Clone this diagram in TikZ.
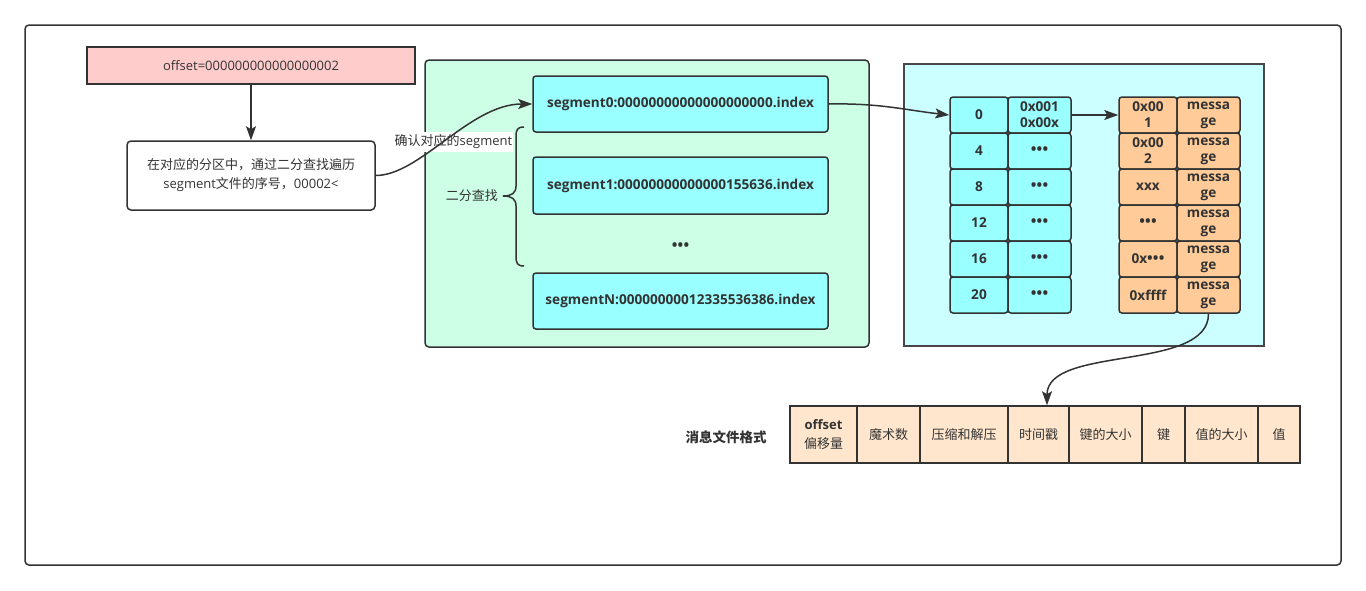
\documentclass[tikz,border=0pt]{standalone}
\usepackage{fontspec}
\setmainfont{Open Sans}
\newfontfamily\cjk{Noto Sans CJK SC}
\usetikzlibrary{arrows.meta}
\definecolor{ln}{HTML}{333333}
\definecolor{pinkfill}{HTML}{FFCCCC}
\definecolor{greenfill}{HTML}{CCFFE6}
\definecolor{segfill}{HTML}{99FFFF}
\definecolor{cyanfill}{HTML}{CCFFFF}
\definecolor{msgfill}{HTML}{FFCC99}
\definecolor{fmtfill}{HTML}{FFE6CC}
\tikzset{
  frame/.style={draw=ln, line width=1.5pt},
  basebox/.style={draw=ln, line width=1.5pt, inner sep=0pt, align=center, text=ln},
  reg/.style={font=\fontsize{13}{19}\selectfont},
  bld/.style={font=\fontsize{13.6}{16}\selectfont\bfseries},
  segbox/.style={basebox, bld, fill=segfill, rounded corners=3pt, minimum width=295pt},
  idxcell/.style={basebox, bld, fill=segfill, rounded corners=3pt, minimum height=36pt},
  msgcell/.style={basebox, bld, fill=msgfill, rounded corners=3pt, minimum height=36pt},
  fmtcell/.style={basebox, reg, fill=fmtfill, minimum height=57pt},
  arr/.style={draw=ln, line width=1.5pt, -{Stealth[length=14pt,width=10pt,inset=3pt]}},
  plainlabel/.style={text=ln, inner sep=1pt, font=\fontsize{13}{16}\selectfont},
}
\newcommand{\dotsthree}{{\fontsize{15}{16}\selectfont\textbullet\kern0.2pt\textbullet\kern0.2pt\textbullet}}
\begin{document}
\begin{tikzpicture}[x=1pt,y=-1pt]
\useasboundingbox (0,0) rectangle (1366,590);
\fill[white] (0,0) rectangle (1366,590);
% outer frame
\draw[frame, rounded corners=4pt] (25,25) rectangle (1341,565);

% left part
\node[basebox, reg, fill=pinkfill, minimum width=328pt, minimum height=37pt] (off) at (251,65.5)
  {offset=000000000000000002};
\node[basebox, reg, fill=white, rounded corners=4pt, minimum width=248pt, minimum height=69pt] (find) at (251,175.5)
  {{\cjk 在对应的分区中，通过二分查找遍历}\\segment{\cjk 文件的序号，}00002<};
\draw[arr] (off.south) -- (find.north);

% green container
\node[basebox, fill=greenfill, rounded corners=4pt, minimum width=444pt, minimum height=287pt] (grp) at (647,203.5) {};
\node[segbox, minimum height=56pt] (seg0) at (680.5,104) {segment0:00000000000000000000.index};
\node[segbox, minimum height=57pt] (seg1) at (680.5,185.5) {segment1:00000000000000155636.index};
\node[text=ln, font=\fontsize{12}{14}\selectfont\bfseries] (segdots) at (680.5,247) {\dotsthree};
\node[segbox, minimum height=56pt] (segN) at (680.5,301) {segmentN:00000000012335536386.index};

% brace
\coordinate (bracetip) at (503,196);
\draw[draw=ln, line width=1.5pt] (524,127) .. controls (517,127) and (516,130) .. (516,137) -- (516,186)
  .. controls (516,193) and (512,196) .. (bracetip) .. controls (512,196) and (516,199) .. (516,206)
  -- (516,256) .. controls (516,263) and (517,266) .. (524,266);
\node[plainlabel, anchor=east, font=\fontsize{13}{16}\selectfont\cjk] (bs) at (499,196) {二分查找};

% label of the curve
\node[plainlabel, fill=white, inner xsep=1pt, inner ysep=3pt] (lbl) at (453.5,142) {{\cjk 确认对应的}segment};
\draw[arr] (find.east) .. controls (420,175.5) and (470,104) .. (seg0.west);

% cyan container
\node[basebox, fill=cyanfill, line width=2pt, draw=ln!90!white, minimum width=360pt, minimum height=282pt] (idxgrp) at (1084,205) {};

% index cells
\node[idxcell, minimum width=58pt] (a0) at (979,115) {0};
\node[idxcell, minimum width=63pt] (b0) at (1039.5,115) {0x001\\0x00x};
\node[idxcell, minimum width=58pt] (a1) at (979,151) {4};
\node[idxcell, minimum width=63pt] (b1) at (1039.5,151) {\dotsthree};
\node[idxcell, minimum width=58pt] (a2) at (979,187) {8};
\node[idxcell, minimum width=63pt] (b2) at (1039.5,187) {\dotsthree};
\node[idxcell, minimum width=58pt] (a3) at (979,223) {12};
\node[idxcell, minimum width=63pt] (b3) at (1039.5,223) {\dotsthree};
\node[idxcell, minimum width=58pt] (a4) at (979,259) {16};
\node[idxcell, minimum width=63pt] (b4) at (1039.5,259) {\dotsthree};
\node[idxcell, minimum width=58pt] (a5) at (979,295) {20};
\node[idxcell, minimum width=63pt] (b5) at (1039.5,295) {\dotsthree};

% message cells
\node[msgcell, minimum width=58pt] (c0) at (1148,115) {0x00\\1};
\node[msgcell, minimum width=63pt] (d0) at (1208.5,115) {messa\\ge};
\node[msgcell, minimum width=58pt] (c1) at (1148,151) {0x00\\2};
\node[msgcell, minimum width=63pt] (d1) at (1208.5,151) {messa\\ge};
\node[msgcell, minimum width=58pt] (c2) at (1148,187) {xxx};
\node[msgcell, minimum width=63pt] (d2) at (1208.5,187) {messa\\ge};
\node[msgcell, minimum width=58pt] (c3) at (1148,223) {\dotsthree};
\node[msgcell, minimum width=63pt] (d3) at (1208.5,223) {messa\\ge};
\node[msgcell, minimum width=58pt] (c4) at (1148,259) {0x\dotsthree};
\node[msgcell, minimum width=63pt] (d4) at (1208.5,259) {messa\\ge};
\node[msgcell, minimum width=58pt] (c5) at (1148,295) {0xffff};
\node[msgcell, minimum width=63pt] (d5) at (1208.5,295) {messa\\ge};

\draw[arr] (seg0.east) .. controls (880,103) and (905,110) .. (a0.west);
\draw[arr] (b0.east) -- (c0.west);

% format table
\node[text=ln, font=\fontsize{13.5}{16}\selectfont\cjk\bfseries] (fmtlbl) at (726,437) {消息文件格式};
\node[fmtcell, minimum width=67pt] (f1) at (823.5,434.5) {\textbf{offset}\\{\cjk 偏移量}};
\node[fmtcell, minimum width=63pt] (f2) at (888.5,434.5) {\cjk 魔术数};
\node[fmtcell, minimum width=88pt] (f3) at (964,434.5) {\cjk 压缩和解压};
\node[fmtcell, minimum width=61pt] (f4) at (1038.5,434.5) {\cjk 时间戳};
\node[fmtcell, minimum width=73pt] (f5) at (1105.5,434.5) {\cjk 键的大小};
\node[fmtcell, minimum width=43pt] (f6) at (1163.5,434.5) {\cjk 键};
\node[fmtcell, minimum width=73pt] (f7) at (1221.5,434.5) {\cjk 值的大小};
\node[fmtcell, minimum width=42pt] (f8) at (1279,434.5) {\cjk 值};

\draw[arr] (d5.south) .. controls (1208.5,372) and (1047,345) .. ([xshift=8.5pt]f4.north);
\end{tikzpicture}
\end{document}
